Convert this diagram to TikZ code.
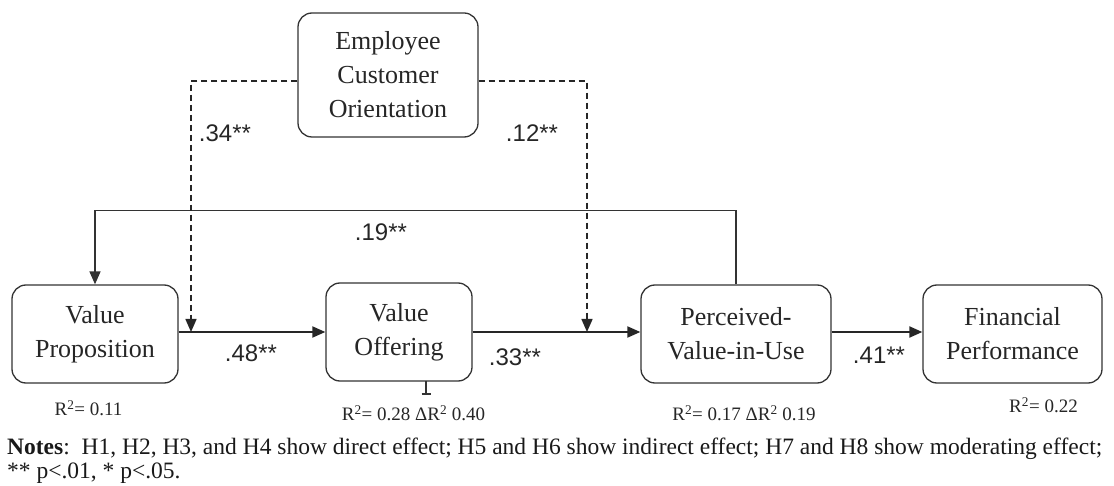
\documentclass[tikz,border=0pt]{standalone}
\usepackage{fontspec}
\setmainfont{Liberation Serif}
\newfontfamily\labfont{Liberation Sans}
\usetikzlibrary{arrows.meta}

\begin{document}
\begin{tikzpicture}[x=1pt,y=-1pt,
  box/.style={draw=black!80, line width=1.3pt, rounded corners=14pt, align=center,
    inner sep=0pt, font=\fontsize{26}{34}\selectfont, text=black!85},
  flow/.style={draw=black!85, line width=2pt, -{Triangle[length=13pt,width=11pt]}},
  feedback/.style={draw=black!80, line width=1.5pt, -{Triangle[length=13pt,width=11pt]}},
  modline/.style={draw=black!85, line width=1.5pt, dash pattern=on 6pt off 4pt,
    -{Triangle[length=13pt,width=11pt]}},
  coef/.style={font=\labfont\fontsize{24}{24}\selectfont, inner sep=0pt, text=black!85},
  rsq/.style={font=\fontsize{19}{19}\selectfont, inner sep=0pt, text=black!85},
  notes/.style={font=\fontsize{23.5}{25}\selectfont, inner sep=0pt, anchor=base west, text=black!90},
]
\useasboundingbox (0,0) rectangle (1114,486);

% constructs
\node[box, minimum width=180pt, minimum height=124pt] (eco) at (388,75) {Employee\\Customer\\Orientation};
\node[box, minimum width=166pt, minimum height=98pt] (vp) at (95,334) {Value\\Proposition};
\node[box, minimum width=146pt, minimum height=98pt] (vo) at (399,332) {Value\\Offering};
\node[box, minimum width=190pt, minimum height=98pt] (pvu) at (736,334) {Perceived-\\Value-in-Use};
\node[box, minimum width=179pt, minimum height=98pt] (fp) at (1012.5,334) {Financial\\Performance};

% points where the moderation hits the main paths
\coordinate (m1) at (191,332);
\coordinate (m2) at (587,332);

% main paths
\draw[flow] (vp.east |- m1) -- (vo.west |- m1);
\draw[flow] (vo.east |- m1) -- (pvu.west |- m1);
\draw[flow] (pvu.east |- m1) -- (fp.west |- m1);

% feedback path
\draw[feedback] (pvu.north) -- ++(0,-74) -| (vp.north);

% moderation paths
\draw[modline] ([yshift=-6pt]eco.west) -| (m1);
\draw[modline] ([yshift=-6pt]eco.east) -| (m2);

% small mark under Value Offering
\draw[black!80, line width=1.3pt] (426,381) -- (426,394) (421.5,394) -- (430.5,394);

% coefficients
\node[coef] (c34) at (225,133) {.34**};
\node[coef] (c12) at (532,133) {.12**};
\node[coef] (c19) at (381,232) {.19**};
\node[coef] (c48) at (251,353) {.48**};
\node[coef] (c33) at (515,357) {.33**};
\node[coef] (c41) at (879,355) {.41**};

% explained variance
\node[rsq] (r1) at (88.5,408) {R\textsuperscript{2}= 0.11};
\node[rsq] (r2) at (413.5,413) {R\textsuperscript{2}= 0.28 ΔR\textsuperscript{2} 0.40};
\node[rsq] (r3) at (744,413) {R\textsuperscript{2}= 0.17 ΔR\textsuperscript{2} 0.19};
\node[rsq] (r4) at (1043.5,405) {R\textsuperscript{2}= 0.22};

% notes
\node[notes] (n1) at (7,454) {\textbf{Notes}:\ \ H1, H2, H3, and H4 show direct effect; H5 and H6 show indirect effect; H7 and H8 show moderating effect;};
\node[notes] (n2) at (7,478) {** p<.01, * p<.05.};
\end{tikzpicture}
\end{document}
